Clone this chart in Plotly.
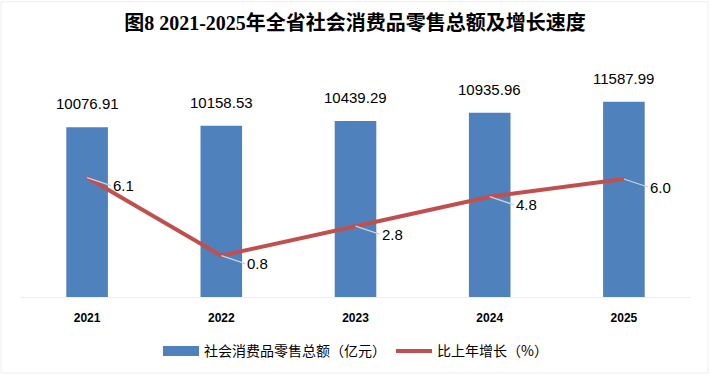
import plotly.graph_objects as go

years = ["2021", "2022", "2023", "2024", "2025"]
retail_sales = [10076.91, 10158.53, 10439.29, 10935.96, 11587.99]
growth = [6.1, 0.8, 2.8, 4.8, 6.0]
sales_labels = ["10076.91", "10158.53", "10439.29", "10935.96", "11587.99"]
growth_labels = ["6.1", "0.8", "2.8", "4.8", "6.0"]

BAR_COLOR = "#4F81BD"
LINE_COLOR = "#C0504D"
LABEL_FONT = "Liberation Sans, Arial, sans-serif"
CJK_FONT = "Noto Sans CJK SC, sans-serif"

fig = go.Figure()
fig.add_trace(go.Bar(
    x=years, y=retail_sales, name="社会消费品零售总额（亿元）",
    marker=dict(color=BAR_COLOR, line=dict(width=0)), width=0.31,
    yaxis="y", hoverinfo="skip", showlegend=False,
))
# legend entry for the bars (wide rectangle swatch like the original)
fig.add_trace(go.Scatter(
    x=[None], y=[None], name="社会消费品零售总额（亿元）", mode="lines",
    line=dict(color=BAR_COLOR, width=10), yaxis="y", hoverinfo="skip",
))
fig.add_trace(go.Scatter(
    x=years, y=growth, name="比上年增长（%）", mode="lines",
    line=dict(color=LINE_COLOR, width=4), yaxis="y2", hoverinfo="skip",
))

annotations = []
for i, (v, lab) in enumerate(zip(retail_sales, sales_labels)):
    annotations.append(dict(
        x=i, y=v, xref="x", yref="y", text=lab, showarrow=False,
        yanchor="bottom", yshift=13,
        font=dict(family=LABEL_FONT, size=15, color="#000000"),
    ))
for i, (v, lab) in enumerate(zip(growth, growth_labels)):
    annotations.append(dict(
        x=i, y=v, xref="x", yref="y2", text=lab, showarrow=True,
        arrowhead=0, arrowwidth=1.3, arrowcolor="#C9D3E3", standoff=0,
        ax=24, ay=8, xanchor="left", yanchor="middle",
        font=dict(family=LABEL_FONT, size=15, color="#000000"),
    ))

fig.update_layout(
    width=710, height=379,
    margin=dict(l=20, r=19, t=61, b=79),
    paper_bgcolor="white", plot_bgcolor="white",
    hovermode=False,
    title=dict(
        text="<b>图8 2021-2025年全省社会消费品零售总额及增长速度</b>",
        x=0.5, xanchor="center", y=1 - 23 / 379, yanchor="middle",
        font=dict(family="Liberation Serif, Noto Sans CJK SC, serif", size=20, color="#000000"),
    ),
    xaxis=dict(
        type="category", range=[-0.5, len(years) - 0.5], showgrid=False, zeroline=False,
        showline=True, linecolor="#EEEEEE", linewidth=1,
        ticks="", ticklabelstandoff=10,
        tickfont=dict(family=LABEL_FONT, size=12, color="#000000", weight="bold"),
    ),
    yaxis=dict(range=[0, 14000], visible=False, showgrid=False, zeroline=False),
    yaxis2=dict(range=[-2, 14], overlaying="y", side="right", visible=False,
                showgrid=False, zeroline=False),
    showlegend=True,
    legend=dict(
        orientation="h", x=0.5, xanchor="center", y=-55 / 239, yanchor="middle",
        font=dict(family=CJK_FONT, size=14, color="#000000"),
        itemwidth=36, tracegroupgap=0,
    ),
    annotations=annotations,
    shapes=[dict(type="rect", xref="paper", yref="paper",
                 x0=-19 / 671, x1=1 + 17 / 671, y0=-77 / 239, y1=1 + 60 / 239,
                 line=dict(color="#EEEEEE", width=1), layer="below")],
)

fig.write_html("out.html", config={"displayModeBar": False},
               post_script="document.body.style.margin='0';")
